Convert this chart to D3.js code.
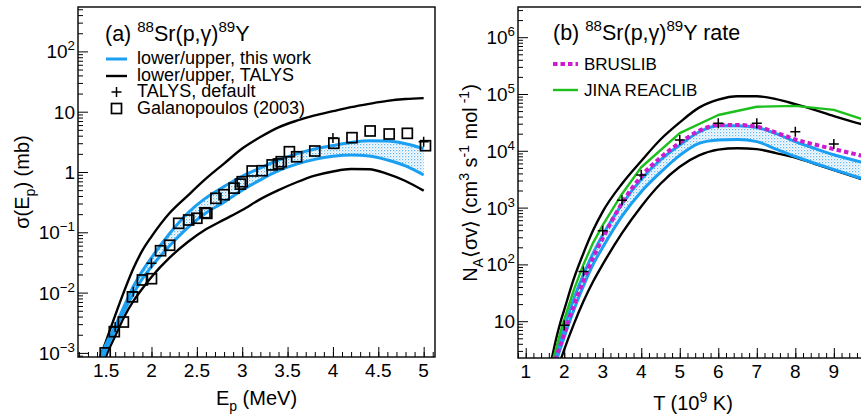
<!DOCTYPE html>
<html>
<head>
<meta charset="utf-8">
<script src="https://cdn.jsdelivr.net/npm/d3@7"></script>
<style>
  body { margin: 0; background: #fff; }
  svg { display: block; }
  text { font-family: "Liberation Sans", Arial, Helvetica, sans-serif; fill: #000; white-space: pre; }
</style>
</head>
<body>
<svg id="chart" width="861" height="415"></svg>
<script>
// ---------- Panel (a): 88Sr(p,g)89Y cross section (mb) vs proton energy (MeV) ----------
const energy = [1.4, 1.5, 1.6, 1.7, 1.8, 1.9, 2.0, 2.2, 2.4, 2.6, 2.8, 3.0, 3.2, 3.4, 3.6, 3.8, 4.0, 4.2, 4.4, 4.6, 4.8, 5.0];
const sigmaTalysUpper = [6.3e-4, 1.58e-3, 4.2e-3, 0.0107, 0.0251, 0.050, 0.085, 0.209, 0.407, 0.776, 1.38, 2.45, 3.8, 5.5, 7.1, 8.7, 10.2, 11.9, 13.5, 15.1, 16.2, 16.8];
const sigmaTalysLower = [3.2e-4, 8.9e-4, 1.9e-3, 4.0e-3, 7.2e-3, 0.0117, 0.0182, 0.038, 0.069, 0.112, 0.162, 0.234, 0.355, 0.50, 0.676, 0.87, 1.02, 1.12, 1.11, 0.93, 0.71, 0.49];
const sigmaUpper = [6.3e-4, 1.41e-3, 2.8e-3, 6.0e-3, 0.0126, 0.0229, 0.038, 0.0955, 0.209, 0.372, 0.575, 0.85, 1.17, 1.58, 2.0, 2.4, 2.75, 3.09, 3.31, 3.27, 2.95, 2.45];
const sigmaLower = [4.0e-4, 1.12e-3, 2.4e-3, 5.0e-3, 9.5e-3, 0.017, 0.0269, 0.060, 0.120, 0.209, 0.316, 0.50, 0.74, 1.05, 1.35, 1.62, 1.82, 1.91, 1.84, 1.58, 1.26, 0.89];
const talysDefaultE = [1.6, 1.8, 2.0, 4.0, 5.0];
const talysDefaultSigma = [2.7e-3, 0.0103, 0.0306, 3.66, 3.18];
const galanopoulosE = [1.49, 1.59, 1.69, 1.79, 1.90, 2.00, 2.10, 2.20, 2.30, 2.41, 2.50, 2.59, 2.61, 2.71, 2.80, 2.91, 2.98, 3.00, 3.11, 3.22, 3.33, 3.40, 3.43, 3.52, 3.60, 3.80, 4.01, 4.21, 4.41, 4.62, 4.82, 5.02];
const galanopoulosSigma = [1.0e-3, 2.25e-3, 3.25e-3, 8.5e-3, 0.0162, 0.017, 0.0495, 0.061, 0.141, 0.160, 0.171, 0.211, 0.206, 0.366, 0.42, 0.54, 0.63, 0.69, 1.04, 1.05, 1.31, 1.36, 1.48, 2.17, 1.79, 2.23, 2.99, 3.71, 4.79, 4.27, 4.38, 2.73];
const xTicksA = [1.5, 2, 2.5, 3, 3.5, 4, 4.5, 5];
const xTickLabelsA = ["1.5", "2", "2.5", "3", "3.5", "4", "4.5", "5"];
const yTicksA = [1e-3, 1e-2, 1e-1, 1, 10, 100];
const yTickLabelsA = [["10", "\u22123"], ["10", "\u22122"], ["10", "\u22121"], ["1", ""], ["10", ""], ["10", "2"]];

// ---------- Panel (b): reaction rate vs temperature (GK) ----------
const temperature = [1.6, 1.7, 1.8, 1.9, 2.0, 2.25, 2.5, 2.75, 3.0, 3.5, 4.0, 4.5, 5.0, 5.5, 6.0, 6.5, 7.0, 7.5, 8.0, 8.5, 9.0, 9.5, 10.0];
const rateTalysUpper = [1.26, 2.6, 5.2, 9.5, 15.8, 56, 158, 398, 851, 2630, 6610, 15800, 31600, 57500, 79400, 91200, 91200, 81300, 66100, 52500, 40700, 32400, 26300];
const rateTalysLower = [0.28, 0.56, 1.12, 2.0, 3.16, 8.9, 22.4, 50, 100, 355, 1050, 2630, 5250, 8300, 10500, 11100, 10700, 9100, 7600, 5900, 4570, 3550, 2750];
const rateUpper = [0.71, 1.32, 2.57, 4.57, 7.6, 25, 66, 158, 331, 1150, 3160, 6900, 12600, 21400, 27500, 27500, 25700, 20000, 14500, 11000, 8500, 6900, 5600];
const rateLower = [0.5, 1.0, 2.0, 3.3, 5.25, 15.8, 41.7, 100, 200, 708, 1900, 4170, 8300, 13500, 15500, 15800, 14500, 10700, 7940, 6030, 4680, 3630, 2880];
const rateBruslib = [0.63, 1.26, 2.4, 3.8, 6.0, 19, 52, 132, 288, 1200, 3550, 7600, 13800, 22400, 28500, 28500, 26600, 20900, 15800, 12900, 10700, 8900, 7400];
const jinaT = [1.6, 1.7, 1.8, 1.9, 2.0, 2.25, 2.5, 2.75, 3.0, 3.5, 4.0, 5.0, 6.0, 7.0, 8.0, 9.0, 10.0];
const jinaRate = [1.0, 2.0, 3.55, 6.3, 10.7, 35.5, 100, 240, 490, 1740, 5130, 20400, 42700, 59600, 61700, 52500, 31600];
const talysDefaultT = [2, 2.5, 3, 3.5, 4, 5, 6, 7, 8, 9];
const talysDefaultRate = [8.5, 75, 390, 1350, 3750, 15500, 30500, 30500, 21700, 13200];
const xTicksB = [1, 2, 3, 4, 5, 6, 7, 8, 9];
const xTickLabelsB = ["1", "2", "3", "4", "5", "6", "7", "8", "9"];
const yTicksB = [10, 100, 1e3, 1e4, 1e5, 1e6];
const yTickLabelsB = [["10", ""], ["10", "2"], ["10", "3"], ["10", "4"], ["10", "5"], ["10", "6"]];

// ---------- styling ----------
const BLUE = "#1a9ff2", GREEN = "#1dbf1d", MAGENTA = "#cc1ccc", DOT = "#5db6f0";
const TICK_FS = 19, TITLE_FS = 20, LEG_FS = 18;

const svg = d3.select("#chart");
const defs = svg.append("defs");
const pat = defs.append("pattern").attr("id", "dots").attr("patternUnits", "userSpaceOnUse")
  .attr("width", 3).attr("height", 3);
pat.append("rect").attr("x", 0).attr("y", 0).attr("width", 1.3).attr("height", 1.3).attr("fill", DOT);
pat.append("rect").attr("x", 1.5).attr("y", 1.5).attr("width", 1.2).attr("height", 1.2).attr("fill", DOT).attr("opacity", 0.55);

// text with super/subscripts
function rich(parent, x, y, parts, size, anchor) {
  const t = parent.append("text").attr("x", x).attr("y", y)
    .attr("font-size", size).attr("text-anchor", anchor || "start");
  let off = 0;
  parts.forEach(p => {
    const target = p.s === "sup" ? -0.42 * size : p.s === "sub" ? 0.3 * size : 0;
    const ts = t.append("tspan").attr("dy", target - off).text(p.t);
    if (p.s) ts.attr("font-size", size * 0.7);
    off = target;
  });
  return t;
}

function logMinors(domain) {
  const out = [];
  for (let e = Math.floor(Math.log10(domain[0])); e <= Math.ceil(Math.log10(domain[1])); e++) {
    for (let k = 2; k <= 9; k++) {
      const v = k * Math.pow(10, e);
      if (v >= domain[0] && v <= domain[1]) out.push(v);
    }
  }
  return out;
}

function panel(opt) {
  const g = svg.append("g");
  const f = opt.frame;
  const clipId = "clip" + opt.id;
  defs.append("clipPath").attr("id", clipId).append("rect")
    .attr("x", f.l).attr("y", f.t).attr("width", f.r - f.l).attr("height", f.b - f.t);

  const x = opt.x, y = opt.y;

  // ticks (drawn inside the frame)
  const addAxis = (axis, tx, ty) => {
    const a = g.append("g").attr("transform", `translate(${tx},${ty})`).call(axis);
    a.select(".domain").remove();
    a.selectAll("line").attr("stroke", "#000").attr("stroke-width", 1);
    a.selectAll("text").remove();
  };
  addAxis(d3.axisBottom(x).tickValues(opt.xMinor).tickSize(-5).tickFormat(""), 0, f.b);
  addAxis(d3.axisBottom(x).tickValues(opt.xTicks).tickSize(-10).tickFormat(""), 0, f.b);
  addAxis(d3.axisLeft(y).tickValues(logMinors(y.domain())).tickSize(-5).tickFormat(""), f.l, 0);
  addAxis(d3.axisLeft(y).tickValues(opt.yTicks).tickSize(-10).tickFormat(""), f.l, 0);

  // tick labels
  opt.xTicks.forEach((v, i) => {
    g.append("text").attr("x", x(v)).attr("y", f.b + 19.5).attr("font-size", TICK_FS)
      .attr("text-anchor", "middle").text(opt.xLabels[i]);
  });
  opt.yTicks.forEach((v, i) => {
    const [base, ex] = opt.yLabels[i];
    const parts = [{ t: base }];
    if (ex) parts.push({ t: ex, s: "sup" });
    rich(g, f.l - 3, y(v) + 7, parts, TICK_FS, "end");
  });

  const plot = g.append("g").attr("clip-path", `url(#${clipId})`);
  g.append("rect").attr("x", f.l).attr("y", f.t).attr("width", f.r - f.l).attr("height", f.b - f.t)
    .attr("fill", "none").attr("stroke", "#000").attr("stroke-width", 1.4);
  return { g, plot };
}

function drawLine(parent, xs, ys, x, y, style, curve) {
  const line = d3.line().x((d, i) => x(xs[i])).y(d => y(d)).curve(curve || d3.curveMonotoneX);
  return parent.append("path").datum(ys).attr("d", line).attr("fill", "none")
    .attr("stroke", style.color).attr("stroke-width", style.width)
    .attr("stroke-dasharray", style.dash || null).attr("stroke-linejoin", "round");
}
function drawBand(parent, xs, lo, hi, x, y) {
  const area = d3.area().x((d, i) => x(xs[i])).y0((d, i) => y(lo[i])).y1((d, i) => y(hi[i]))
    .curve(d3.curveMonotoneX);
  parent.append("path").datum(xs).attr("d", area).attr("fill", "url(#dots)").attr("stroke", "none");
}
function plus(parent, cx, cy, r) {
  parent.append("path").attr("d", `M${cx - r},${cy}H${cx + r}M${cx},${cy - r}V${cy + r}`)
    .attr("stroke", "#000").attr("stroke-width", 1.5).attr("fill", "none");
}
function square(parent, cx, cy, s) {
  parent.append("rect").attr("x", cx - s / 2).attr("y", cy - s / 2).attr("width", s).attr("height", s)
    .attr("fill", "none").attr("stroke", "#000").attr("stroke-width", 1.7);
}

// ================= Panel (a) =================
const frameA = { l: 78, r: 435, t: 7, b: 357 };
const xA = d3.scaleLinear().domain([1.19, 5.125]).range([frameA.l, frameA.r]);
const yA = d3.scaleLog().domain([8.55e-4, 545]).range([frameA.b, frameA.t]);
const pA = panel({
  id: "A", frame: frameA, x: xA, y: yA,
  xTicks: xTicksA, xLabels: xTickLabelsA, xMinor: d3.range(12, 52).map(i => i / 10),
  yTicks: yTicksA, yLabels: yTickLabelsA
});
drawBand(pA.plot, energy, sigmaLower, sigmaUpper, xA, yA);
drawLine(pA.plot, energy, sigmaTalysUpper, xA, yA, { color: "#000", width: 2.4 });
drawLine(pA.plot, energy, sigmaTalysLower, xA, yA, { color: "#000", width: 2.4 });
drawLine(pA.plot, energy, sigmaUpper, xA, yA, { color: BLUE, width: 3 });
drawLine(pA.plot, energy, sigmaLower, xA, yA, { color: BLUE, width: 3 });
galanopoulosE.forEach((e, i) => square(pA.plot, xA(e), yA(galanopoulosSigma[i]), 10));
talysDefaultE.forEach((e, i) => plus(pA.plot, xA(e), yA(talysDefaultSigma[i]), 5));

// axis titles
rich(svg, 256.5, 405, [{ t: "E" }, { t: "p", s: "sub" }, { t: " (MeV)" }], TITLE_FS, "middle");
rich(svg.append("g").attr("transform", "translate(29,182) rotate(-90)"), 0, 0,
  [{ t: "\u03c3(E" }, { t: "p", s: "sub" }, { t: ") (mb)" }], TITLE_FS, "middle");

// title + legend
rich(svg, 105, 41, [{ t: "(a) " }, { t: "88", s: "sup" }, { t: "Sr(p,\u03b3)" }, { t: "89", s: "sup" }, { t: "Y" }], 21.5);
const legA = svg.append("g");
legA.append("line").attr("x1", 106).attr("x2", 127).attr("y1", 59).attr("y2", 59).attr("stroke", BLUE).attr("stroke-width", 3);
legA.append("line").attr("x1", 106).attr("x2", 127).attr("y1", 76).attr("y2", 76).attr("stroke", "#000").attr("stroke-width", 2.4);
plus(legA, 116.5, 92, 5);
square(legA, 116.5, 108.5, 10);
[["lower/upper, this work", 64], ["lower/upper, TALYS", 80.5], ["TALYS, default", 97], ["Galanopoulos (2003)", 113.5]]
  .forEach(([t, yy]) => legA.append("text").attr("x", 137).attr("y", yy).attr("font-size", LEG_FS).text(t));

// ================= Panel (b) =================
const frameB = { l: 518, r: 868.5, t: 7, b: 358 };
const xB = d3.scaleLinear().domain([0.8, 9.9]).range([frameB.l, frameB.r]);
const yB = d3.scaleLog().domain([2.25, 3.4e6]).range([frameB.b, frameB.t]);
const pB = panel({
  id: "B", frame: frameB, x: xB, y: yB,
  xTicks: xTicksB, xLabels: xTickLabelsB, xMinor: d3.range(4, 50).map(i => i / 5),
  yTicks: yTicksB, yLabels: yTickLabelsB
});
drawBand(pB.plot, temperature, rateLower, rateUpper, xB, yB);
drawLine(pB.plot, temperature, rateTalysUpper, xB, yB, { color: "#000", width: 2.4 });
drawLine(pB.plot, temperature, rateTalysLower, xB, yB, { color: "#000", width: 2.4 });
drawLine(pB.plot, temperature, rateUpper, xB, yB, { color: BLUE, width: 3 });
drawLine(pB.plot, temperature, rateLower, xB, yB, { color: BLUE, width: 3 });
drawLine(pB.plot, jinaT, jinaRate, xB, yB, { color: GREEN, width: 2.4 }, d3.curveLinear);
drawLine(pB.plot, temperature, rateBruslib, xB, yB, { color: MAGENTA, width: 4, dash: "4.5,3" });
talysDefaultT.forEach((t, i) => plus(pB.plot, xB(t), yB(talysDefaultRate[i]), 5));

rich(svg, 693, 410, [{ t: "T (10" }, { t: "9", s: "sup" }, { t: " K)" }], TITLE_FS, "middle");
rich(svg.append("g").attr("transform", "translate(477,183) rotate(-90)"), 0, 0,
  [{ t: "N" }, { t: "A", s: "sub" }, { t: "\u27e8\u03c3v\u27e9 (cm" }, { t: "3", s: "sup" }, { t: " s" }, { t: "-1", s: "sup" }, { t: " mol" }, { t: " -1", s: "sup" }, { t: ")" }],
  TITLE_FS, "middle");

rich(svg, 553, 40, [{ t: "(b) " }, { t: "88", s: "sup" }, { t: "Sr(p,\u03b3)" }, { t: "89", s: "sup" }, { t: "Y rate" }], 21.5);
const legB = svg.append("g");
legB.append("line").attr("x1", 553).attr("x2", 578).attr("y1", 64).attr("y2", 64)
  .attr("stroke", MAGENTA).attr("stroke-width", 4).attr("stroke-dasharray", "4.5,3");
legB.append("line").attr("x1", 553).attr("x2", 578).attr("y1", 90).attr("y2", 90)
  .attr("stroke", GREEN).attr("stroke-width", 2.4);
legB.append("text").attr("x", 584).attr("y", 70).attr("font-size", 17).text("BRUSLIB");
legB.append("text").attr("x", 584).attr("y", 96).attr("font-size", 17).text("JINA REACLIB");
</script>
</body>
</html>
